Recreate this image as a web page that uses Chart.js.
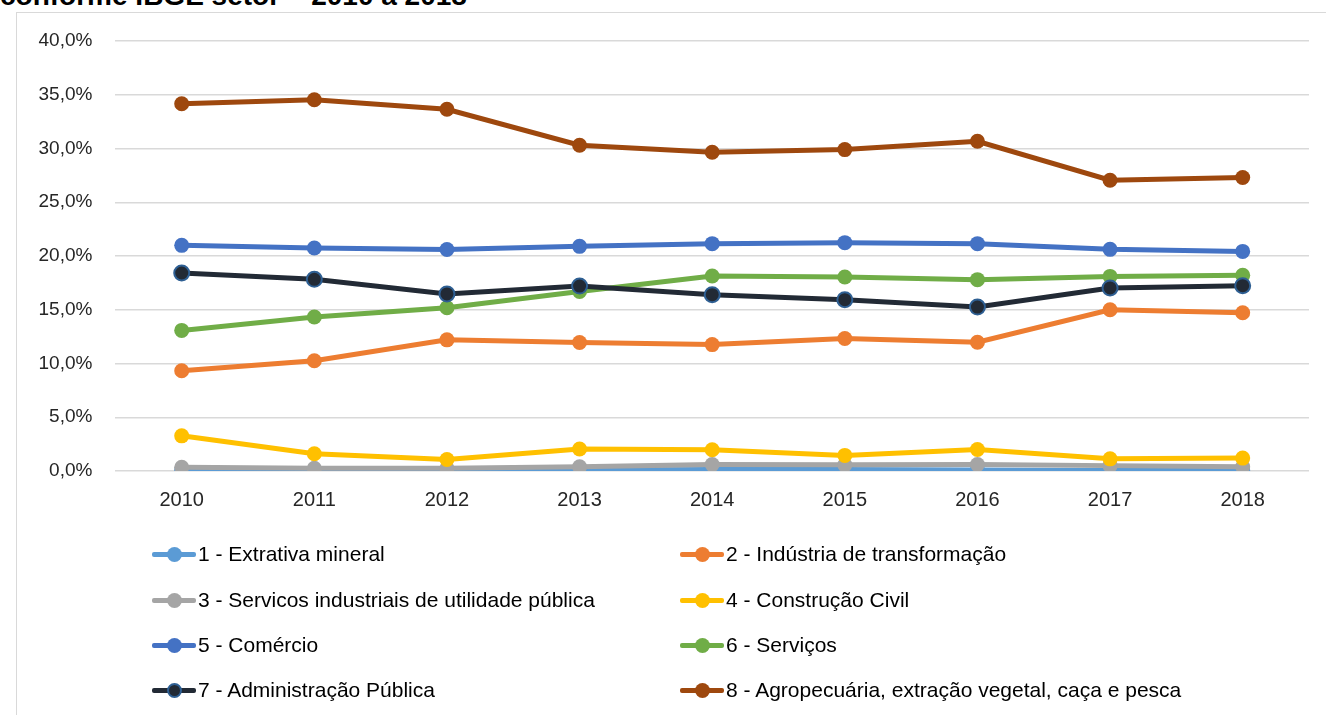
<!DOCTYPE html>
<html>
<head>
<meta charset="utf-8">
<script src="https://cdn.jsdelivr.net/npm/chart.js@4"></script>
<style>
  body { margin: 0; background: #fff; width: 1326px; height: 715px; overflow: hidden; position: relative; }
  #titulo { position: absolute; left: 0; top: -20px; font: bold 28px "Liberation Sans", Arial, sans-serif; color: #000; white-space: nowrap; }
  #moldura { position: absolute; left: 16px; top: 12px; width: 1400px; height: 800px; border-left: 1px solid #d9d9d9; border-top: 1px solid #d9d9d9; }
  #grafico { position: absolute; left: 0; top: 0; }
  .leg { position: absolute; height: 30px; display: flex; align-items: center; font: 21px "Liberation Sans", Arial, sans-serif; color: #000; white-space: nowrap; }
  .simb { position: relative; width: 44px; height: 15px; margin-right: 2px; }
  .simb .linha { position: absolute; left: 0; top: 5px; width: 44px; height: 5px; border-radius: 2px; }
  .simb .ponto { position: absolute; left: 14.5px; top: 0; width: 15px; height: 15px; border-radius: 50%; box-sizing: border-box; }
</style>
</head>
<body>
<div id="titulo">conforme IBGE setor – 2010 a 2018</div>
<div id="moldura"></div>
<canvas id="grafico" width="1326" height="715"></canvas>
<div id="legenda"></div>
<script>
// Anos e participação (%) por setor IBGE
const anos = ['2010', '2011', '2012', '2013', '2014', '2015', '2016', '2017', '2018'];

const extrativaMineral = [0.10, 0.10, 0.10, 0.10, 0.15, 0.15, 0.10, 0.05, 0.05];
const industriaTransformacao = [9.32, 10.25, 12.2, 11.96, 11.76, 12.32, 11.98, 15.0, 14.72];
const servicosIndustriais = [0.35, 0.25, 0.25, 0.40, 0.60, 0.57, 0.60, 0.50, 0.40];
const construcaoCivil = [3.27, 1.60, 1.07, 2.04, 1.98, 1.45, 2.00, 1.13, 1.20];
const comercio = [20.99, 20.74, 20.6, 20.9, 21.15, 21.24, 21.15, 20.62, 20.43];
const servicos = [13.08, 14.32, 15.19, 16.7, 18.14, 18.05, 17.8, 18.1, 18.2];
const administracaoPublica = [18.42, 17.83, 16.47, 17.2, 16.4, 15.94, 15.25, 17.03, 17.24];
const agropecuaria = [34.16, 34.53, 33.65, 30.3, 29.65, 29.9, 30.67, 27.05, 27.3];

const setores = [
    '1 - Extrativa mineral',
    '2 - Indústria de transformação',
    '3 - Servicos industriais de utilidade pública',
    '4 - Construção Civil',
    '5 - Comércio',
    '6 - Serviços',
    '7 - Administração Pública',
    '8 - Agropecuária, extração vegetal, caça e pesca'
];
const valores = [extrativaMineral, industriaTransformacao, servicosIndustriais, construcaoCivil,
    comercio, servicos, administracaoPublica, agropecuaria];
const cores = ['#5B9BD5', '#ED7D31', '#A5A5A5', '#FFC000', '#4472C4', '#70AD47', '#222A35', '#9E480E'];
const bordasPonto = ['#5B9BD5', '#ED7D31', '#A5A5A5', '#FFC000', '#4472C4', '#70AD47', '#2E5F93', '#9E480E'];

const datasets = setores.map((nome, i) => ({
    label: nome,
    data: valores[i],
    borderColor: cores[i],
    backgroundColor: cores[i],
    pointBackgroundColor: cores[i],
    pointBorderColor: bordasPonto[i],
    pointBorderWidth: i === 6 ? 2 : 0,
    pointRadius: 7.5,
    pointHoverRadius: 7.5,
    borderWidth: 5,
    tension: 0,
    order: setores.length - i
}));

const fonteEixo = { family: '"Liberation Sans", Arial, sans-serif' };

new Chart(document.getElementById('grafico'), {
    type: 'line',
    data: { labels: anos, datasets: datasets },
    options: {
        responsive: false,
        animation: false,
        layout: { padding: { left: 0, top: 41, right: 17, bottom: 0 } },
        plugins: { legend: { display: false }, tooltip: { enabled: false } },
        scales: {
            x: {
                offset: true,
                grid: { display: false, drawTicks: false },
                border: { display: false },
                ticks: { color: '#262626', font: { ...fonteEixo, size: 20 }, padding: 17 },
                afterFit: s => { s.height = 244; }
            },
            y: {
                min: 0,
                max: 40,
                grid: { color: '#d9d9d9', lineWidth: 1.5, drawTicks: false },
                border: { display: false },
                ticks: {
                    stepSize: 5,
                    color: '#262626',
                    font: { ...fonteEixo, size: 19 },
                    padding: 23,
                    callback: v => v.toFixed(1).replace('.', ',') + '%'
                },
                afterFit: s => { s.width = 115.4; }
            }
        }
    }
});

// Legenda em duas colunas
const legenda = document.getElementById('legenda');
const colX = [152, 680];
const linhaY = [554, 600, 645, 690];
setores.forEach((nome, i) => {
    const item = document.createElement('div');
    item.className = 'leg';
    item.style.left = colX[i % 2] + 'px';
    item.style.top = (linhaY[Math.floor(i / 2)] - 15) + 'px';
    const borda = i === 6 ? '2px solid ' + bordasPonto[i] : 'none';
    item.innerHTML = '<div class="simb"><div class="linha" style="background:' + cores[i] + '"></div>' +
        '<div class="ponto" style="background:' + cores[i] + ';border:' + borda + '"></div></div>' +
        '<span>' + nome + '</span>';
    legenda.appendChild(item);
});
</script>
</body>
</html>
